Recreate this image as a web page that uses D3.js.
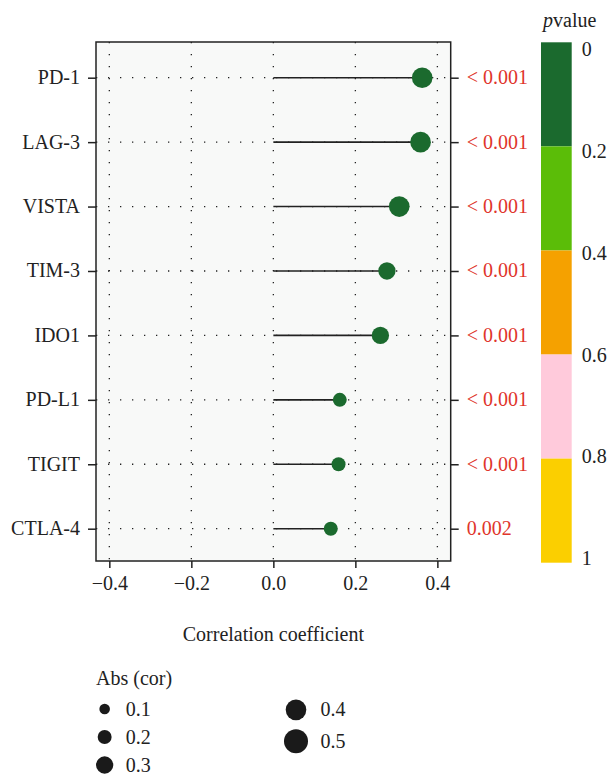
<!DOCTYPE html>
<html>
<head>
<meta charset="utf-8">
<script src="https://cdn.jsdelivr.net/npm/d3@7"></script>
<style>
  body { margin: 0; background: #fff; }
</style>
</head>
<body>
<svg id="svgLollipop" width="609" height="775"></svg>
<script>
// data
var genes = ["PD-1", "LAG-3", "VISTA", "TIM-3", "IDO1", "PD-L1", "TIGIT", "CTLA-4"];
var corValues = [0.363, 0.359, 0.307, 0.277, 0.261, 0.162, 0.159, 0.140];
var pValues = [0.001, 0.001, 0.001, 0.001, 0.001, 0.001, 0.001, 0.002];
var pLabels = ["< 0.001", "< 0.001", "< 0.001", "< 0.001", "< 0.001", "< 0.001", "< 0.001", "0.002"];
var xTicks = [-0.4, -0.2, 0.0, 0.2, 0.4];
var pBreaks = [0, 0.2, 0.4, 0.6, 0.8, 1];
var pColors = ["#1b6a2e", "#5bbd08", "#f5a100", "#ffcadb", "#fbcf00"];
var sizeBreaks = [0.1, 0.2, 0.3, 0.4, 0.5];

var FUENTE = "'Liberation Serif', 'DejaVu Serif', serif";

function dibujarLollipop() {
    var svg = d3.select("#svgLollipop")
                .attr("font-family", FUENTE)
                .attr("font-size", "20px");
    var left = 96, right = 450.7, top = 42, bottom = 561;

    var data = genes.map(function(g, i) {
        return { gen: g, cor: corValues[i], p: pValues[i], etiqueta: pLabels[i] };
    });

    var x = d3.scaleLinear().domain([-0.4325, 0.4325]).range([left, right]);
    var y = d3.scalePoint().domain(genes).range([77.7, 528.7]);

    // p value -> colour band
    var color = d3.scaleThreshold().domain([0.2, 0.4, 0.6, 0.8]).range(pColors);

    // size is binned: abs(cor) rounded up to the next 0.1
    var size = d3.scaleLinear().domain([0.1, 0.5]).range([5.3, 12]);
    function binCor(v) { return Math.ceil(Math.abs(v) * 10) / 10; }

    // panel background
    svg.append("rect")
       .attr("x", left).attr("y", top)
       .attr("width", right - left).attr("height", bottom - top)
       .attr("fill", "#f8f9f8");

    // dotted grid
    svg.append("g").selectAll("line")
       .data(xTicks).enter().append("line")
       .attr("x1", function(d) { return x(d); })
       .attr("x2", function(d) { return x(d); })
       .attr("y1", top).attr("y2", bottom)
       .attr("stroke", "#222").attr("stroke-width", 1.3)
       .attr("stroke-dasharray", "1.3,10.7");

    svg.append("g").selectAll("line")
       .data(genes).enter().append("line")
       .attr("x1", left).attr("x2", right)
       .attr("y1", function(d) { return y(d); })
       .attr("y2", function(d) { return y(d); })
       .attr("stroke", "#222").attr("stroke-width", 1.3)
       .attr("stroke-dasharray", "1.3,10.7");

    // lollipops
    svg.append("g").selectAll("line")
       .data(data).enter().append("line")
       .attr("x1", x(0))
       .attr("x2", function(d) { return x(d.cor); })
       .attr("y1", function(d) { return y(d.gen); })
       .attr("y2", function(d) { return y(d.gen); })
       .attr("stroke", "#222").attr("stroke-width", 1.6);

    svg.append("g").selectAll("circle")
       .data(data).enter().append("circle")
       .attr("cx", function(d) { return x(d.cor); })
       .attr("cy", function(d) { return y(d.gen); })
       .attr("r", function(d) { return size(binCor(d.cor)); })
       .attr("fill", function(d) { return color(d.p); });

    // panel border
    svg.append("rect")
       .attr("x", left).attr("y", top)
       .attr("width", right - left).attr("height", bottom - top)
       .attr("fill", "none").attr("stroke", "#222").attr("stroke-width", 1.5);

    // axes
    var ejeX = svg.append("g")
       .attr("transform", "translate(0," + bottom + ")")
       .call(d3.axisBottom(x).tickValues(xTicks).tickSize(7).tickPadding(8)
             .tickFormat(function(d) { return d3.format(".1f")(d).replace("-", "\u2013"); }));

    var ejeY = svg.append("g")
       .attr("transform", "translate(" + left + ",0)")
       .call(d3.axisLeft(y).tickSize(8).tickPadding(8));

    var ejeP = svg.append("g")
       .attr("transform", "translate(" + right + ",0)")
       .call(d3.axisRight(y).tickSize(8).tickPadding(8)
             .tickFormat(function(d, i) { return pLabels[i]; }));

    [ejeX, ejeY, ejeP].forEach(function(eje) {
        eje.attr("font-family", FUENTE).attr("font-size", "20px");
        eje.select(".domain").remove();
        eje.selectAll(".tick line").attr("stroke", "#222").attr("stroke-width", 1.5);
        eje.selectAll("text").attr("fill", "#222");
    });
    ejeX.selectAll("text").attr("dy", "0.72em");
    ejeY.selectAll("text").attr("dy", "0.3em");
    ejeP.selectAll("text").attr("dy", "0.3em").attr("fill", "#e0352b");

    svg.append("text")
       .attr("x", (left + right) / 2)
       .attr("y", 641)
       .attr("text-anchor", "middle")
       .attr("fill", "#222")
       .text("Correlation coefficient");

    // p value colour bar
    var barX = 541, barW = 30.7;
    var yBar = d3.scaleLinear().domain([0, 1]).range([42.3, 562.7]);
    var yBarLabel = d3.scaleLinear().domain([0, 1]).range([49, 558.3]);

    var titulo = svg.append("text").attr("x", 543).attr("y", 27).attr("fill", "#222");
    titulo.append("tspan").attr("font-style", "italic").text("p");
    titulo.append("tspan").text("value");

    svg.append("g").selectAll("rect")
       .data(pColors).enter().append("rect")
       .attr("x", barX)
       .attr("y", function(d, i) { return yBar(pBreaks[i]); })
       .attr("width", barW)
       .attr("height", function(d, i) { return yBar(pBreaks[i + 1]) - yBar(pBreaks[i]); })
       .attr("fill", function(d) { return d; });

    svg.append("g").selectAll("text")
       .data(pBreaks).enter().append("text")
       .attr("x", 581.7)
       .attr("y", function(d) { return yBarLabel(d); })
       .attr("dy", "0.35em")
       .attr("fill", "#222")
       .text(function(d) { return d3.format("~g")(d); });

    // size legend
    svg.append("text").attr("x", 96).attr("y", 685).attr("fill", "#222").text("Abs (cor)");

    var columnas = [sizeBreaks.slice(0, 3), sizeBreaks.slice(3)];
    columnas.forEach(function(col, c) {
        var maxR = d3.max(col, function(d) { return size(d); });
        var dotX = 96 + c * 188 + maxR;
        var yy = 695;
        var items = col.map(function(d) {
            var h = Math.max(28, 2 * size(d) + 9);
            var cy = yy + h / 2;
            yy += h;
            return { v: d, cy: cy };
        });
        var g = svg.append("g");
        g.selectAll("circle")
         .data(items).enter().append("circle")
         .attr("cx", dotX)
         .attr("cy", function(d) { return d.cy; })
         .attr("r", function(d) { return size(d.v); })
         .attr("fill", "#1a1a1a");
        g.selectAll("text")
         .data(items).enter().append("text")
         .attr("x", dotX + maxR + 12.5)
         .attr("y", function(d) { return d.cy; })
         .attr("dy", "0.33em")
         .attr("fill", "#222")
         .text(function(d) { return d3.format(".1f")(d.v); });
    });
}

dibujarLollipop();
</script>
</body>
</html>
